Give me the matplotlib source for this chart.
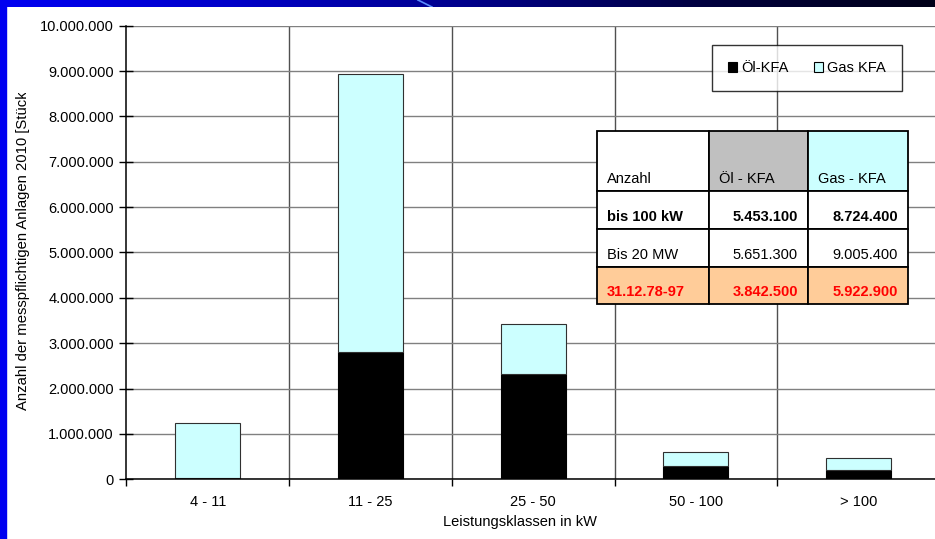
import numpy as np
import matplotlib
matplotlib.use("Agg")
import matplotlib.pyplot as plt
from matplotlib.patches import Rectangle, Patch
from matplotlib.ticker import FuncFormatter, FixedLocator

plt.rcParams['font.family'] = ['Liberation Sans', 'DejaVu Sans']

# ---- data ----
categories = ["4 - 11", "11 - 25", "25 - 50", "50 - 100", "> 100"]
oel = [35000, 2800000, 2330000, 293000, 198000]
gas = [1200000, 6140000, 1100000, 302000, 272000]
y_ticks = np.arange(0, 10_000_001, 1_000_000)

table_header = ["Anzahl", "Öl - KFA", "Gas - KFA"]
table_rows = [["bis 100 kW", "5.453.100", "8.724.400"],
              ["Bis 20 MW", "5.651.300", "9.005.400"],
              ["31.12.78-97", "3.842.500", "5.922.900"]]

W, H = 935, 539
fig = plt.figure(figsize=(W / 100, H / 100), dpi=100, facecolor="white")
fx = lambda x: x / W
fy = lambda y: 1 - y / H

# ---- blue frame (slide background) ----
band = fig.add_axes([0, fy(7), 1, 7 / H])
grad = np.linspace(0, 1, 256)[None, :]
band_cmap = matplotlib.colors.LinearSegmentedColormap.from_list(
    "band", ["#0000f2", "#0000c8", "#00008a", "#000040", "#000018"])
band.imshow(grad, aspect="auto", cmap=band_cmap, extent=[0, 1, 0, 1])
band.plot([0.447, 0.462], [1, 0], color="#5a8cff", lw=1.2)
band.set_xlim(0, 1); band.set_ylim(0, 1); band.axis("off")
fig.patches.append(Rectangle((0, 0), fx(6), 1, transform=fig.transFigure,
                             color="#0000f0", zorder=0))

# ---- main axes ----
ax = fig.add_axes([fx(126.5), fy(479.3), 813.5 / W, 453.6 / H])
x = np.arange(len(categories))
ax.bar(x, oel, width=0.40, color="black", edgecolor="black", lw=0.8, zorder=3)
ax.bar(x, gas, width=0.40, bottom=oel, color="#ccffff", edgecolor="#303030", lw=0.8, zorder=3)

ax.set_xlim(-0.5, 4.5)
ax.set_ylim(0, 10_000_000)
ax.set_yticks(y_ticks)
ax.yaxis.set_major_formatter(FuncFormatter(lambda v, p: f"{int(v):,}".replace(",", ".")))
ax.grid(axis="y", color="#808080", lw=1.0, zorder=0)
ax.set_xticks(x)
ax.set_xticklabels(categories)
ax.xaxis.set_minor_locator(FixedLocator(np.arange(-0.5, 5, 1)))
for b in np.arange(0.5, 4.6, 1):
    ax.axvline(b, color="#505050", lw=1.0, zorder=1)
ax.tick_params(axis="x", which="major", length=0, pad=11, labelsize=10.5)
ax.tick_params(axis="x", which="minor", length=5, direction="out", width=1)
ax.tick_params(axis="y", length=10, direction="inout", width=1, pad=4, labelsize=10.5)
for s in ("top", "right"):
    ax.spines[s].set_visible(False)
for s in ("left", "bottom"):
    ax.spines[s].set_linewidth(1.1)
    ax.spines[s].set_zorder(4)

# axis titles (y title is cut off at the top, as in the original slide)
fig.text(fx(520), fy(522), "Leistungsklassen in kW", ha="center", va="center", fontsize=10.5)
fig.text(fx(23), fy(410), "Anzahl der messpflichtigen Anlagen 2010 [Stück]",
         rotation=90, ha="center", va="bottom", fontsize=10.7)
fig.patches.append(Rectangle((fx(8), fy(93)), fx(30), 86 / H, transform=fig.transFigure,
                             facecolor="white", edgecolor="none", zorder=10))

# ---- legend ----
leg = fig.legend(handles=[Patch(facecolor="black", edgecolor="black", lw=0.8, label="Öl-KFA"),
                          Patch(facecolor="#ccffff", edgecolor="black", lw=0.8, label="Gas KFA")],
                 loc="upper left", bbox_to_anchor=(fx(712), fy(45)), ncol=2, fontsize=10.5,
                 frameon=True, fancybox=False, handlelength=0.6, handleheight=0.6,
                 handletextpad=0.3, columnspacing=1.75, borderpad=1.1, borderaxespad=0)
leg.get_frame().set_edgecolor("black")
leg.get_frame().set_linewidth(1.0)

# ---- data table ----
col_x = [597, 709, 808, 908]
row_y = [131, 191, 229, 267, 304]
head_fill = ["white", "#c0c0c0", "#ccffff"]
row_fill = ["white", "white", "#ffcc99"]
row_color = ["black", "black", "#ff0000"]
row_weight = ["bold", "normal", "bold"]
for r in range(4):
    for c in range(3):
        if r == 0:
            fill, txt, col, wt = head_fill[c], table_header[c], "black", "normal"
        else:
            fill, txt = row_fill[r - 1], table_rows[r - 1][c]
            col, wt = row_color[r - 1], row_weight[r - 1]
        x0, x1, y0, y1 = col_x[c], col_x[c + 1], row_y[r], row_y[r + 1]
        fig.patches.append(Rectangle((fx(x0), fy(y1)), (x1 - x0) / W, (y1 - y0) / H,
                                     transform=fig.transFigure, facecolor=fill,
                                     edgecolor="black", lw=1.3, zorder=5))
        if r == 0 or c == 0:
            fig.text(fx(x0 + 10), fy(y1 - 8), txt, ha="left", va="baseline",
                     fontsize=10.5, color=col, weight=wt, zorder=6)
        else:
            fig.text(fx(x1 - 10), fy(y1 - 8), txt, ha="right", va="baseline",
                     fontsize=10.5, color=col, weight=wt, zorder=6)

fig.savefig("out.png", dpi=100, facecolor="white")
